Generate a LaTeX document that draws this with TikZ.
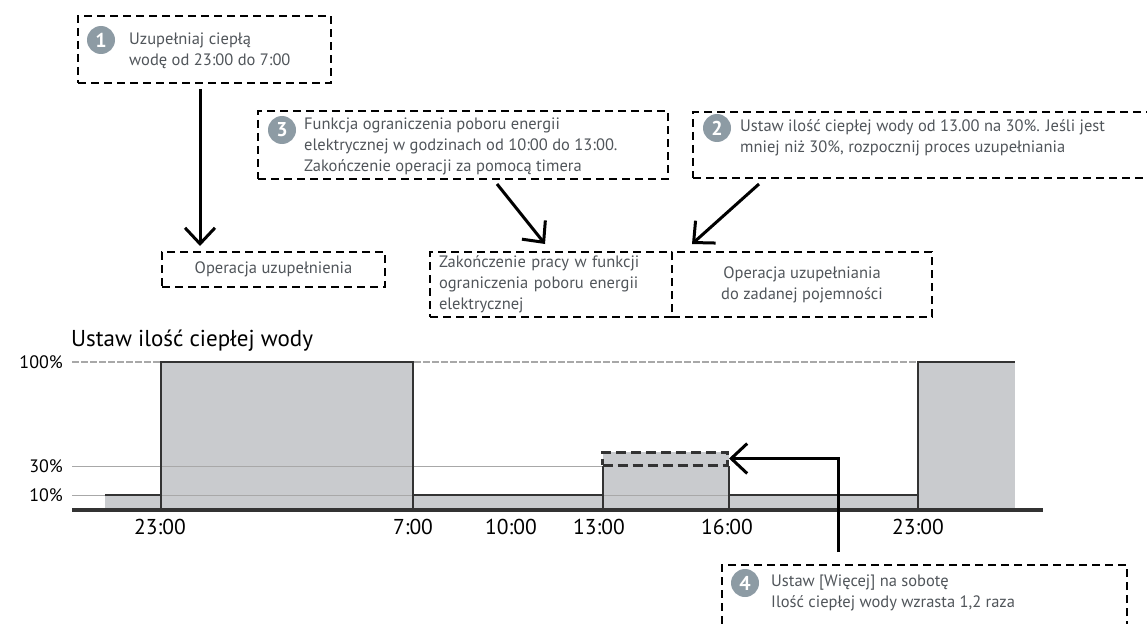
\documentclass[tikz,border=0pt]{standalone}
\usepackage{fontspec}
\setmainfont{PT Sans}
\usetikzlibrary{arrows.meta}
\definecolor{boxtext}{HTML}{50555A}
\definecolor{badgegray}{HTML}{8D9BA4}
\definecolor{barfill}{HTML}{C9CBCE}
\definecolor{edgedark}{HTML}{333333}
\definecolor{gridgray}{HTML}{A8A8A8}

\begin{document}
\begin{tikzpicture}[x=1pt, y=-1pt,
    dbox/.style={draw, dash pattern=on 8pt off 5pt, line width=2pt, inner sep=0pt},
    badge/.style={circle, fill=badgegray, text=white, font=\fontsize{20}{20}\selectfont\bfseries, minimum size=28pt, inner sep=0pt},
    txt/.style={text=boxtext, font=\fontsize{16.5}{21}\selectfont, align=left, inner sep=0pt},
    arr/.style={line width=3pt, -{Straight Barb[length=16pt, width=30pt]}},
    lbl/.style={font=\fontsize{21.5}{21.5}\selectfont, inner sep=0pt}]
        \clip (0, 0) rectangle (1147, 623);

        \node[dbox, minimum width=253pt, minimum height=67pt] (b1) at (204.5, 49.5) {};
        \node[badge] (n1) at (101, 40) {1};
        \node[txt, anchor=west] (t1) at (129, 50.5) {Uzupełniaj ciepłą\\wodę od 23:00 do 7:00};

        \node[dbox, minimum width=410pt, minimum height=68pt] (b3) at (463, 145) {};
        \node[badge] (n3) at (282, 130) {3};
        \node[txt, anchor=west] (t3) at (304, 146) {Funkcja ograniczenia poboru energii\\elektrycznej w godzinach od 10:00 do 13:00.\\Zakończenie operacji za pomocą timera};

        \node[dbox, minimum width=477pt, minimum height=66pt] (b2) at (931.5, 145) {};
        \node[badge] (n2) at (717, 128) {2};
        \node[txt, anchor=west] (t2) at (740, 138) {Ustaw ilość ciepłej wody od 13.00 na 30\%. Jeśli jest\\mniej niż 30\%, rozpocznij proces uzupełniania};

        \node[dbox, txt, minimum width=223pt, minimum height=35pt] (op1) at (273.5, 269.5) {Operacja uzupełnienia};
        \node[dbox, txt, minimum width=242pt, minimum height=65pt, text width=224pt] (zl) at (551, 284.5) {Zakończenie pracy w funkcji\\ograniczenia poboru energii\\elektrycznej};
        \node[dbox, txt, align=center, minimum width=260pt, minimum height=65pt] (zr) at (802, 284.5) {Operacja uzupełniania\\do zadanej pojemności};

        \node[dbox, minimum width=405pt, minimum height=75pt] (b4) at (924.5, 602.5) {};
        \node[badge] (n4) at (745, 583) {4};
        \node[txt, anchor=west] (t4) at (771, 593) {Ustaw [Więcej] na sobotę\\Ilość ciepłej wody wzrasta 1,2 raza};

        \draw[arr] ([xshift=-4.5pt, yshift=-5pt]b1.south) -- ([xshift=-73.5pt, yshift=5pt]op1.north);
        \draw[arr] ([xshift=34pt, yshift=-4pt]b3.south) -- ([xshift=-6pt, yshift=7pt]zl.north);
        \draw[arr] ([xshift=67pt, yshift=-5pt]b2.south west) -- ([xshift=21pt, yshift=7pt]zr.north west);

        \fill[barfill] (105, 495) rectangle (918, 510);
        \fill[barfill] (161, 362) rectangle (413, 510);
        \fill[barfill] (603, 452) rectangle (729, 510);
        \fill[barfill] (918, 362) rectangle (1015, 510);

        \draw[gridgray, line width=1.5pt, dash pattern=on 7pt off 2pt] (72, 362) to (918, 362);
        \draw[gridgray, line width=1pt] (72, 466) to (603, 466);
        \draw[gridgray, line width=1pt] (72, 495) to (918, 495);

        \draw[edgedark, line width=1.5pt] (105, 495) -- (161, 495);
        \draw[edgedark, line width=1.5pt] (161, 510) -- (161, 362) -- (413, 362) -- (413, 510);
        \draw[edgedark, line width=1.5pt] (413, 495) -- (603, 495);
        \draw[edgedark, line width=1.5pt] (603, 510) -- (603, 466);
        \draw[edgedark, line width=1.5pt] (729, 510) -- (729, 466);
        \draw[edgedark, line width=1.5pt] (729, 495) -- (918, 495);
        \draw[edgedark, line width=1.5pt] (918, 510) -- (918, 362) -- (1015, 362);
        \draw[edgedark, line width=4pt] (72, 510) -- (1043, 510);

        \node[draw=edgedark, dash pattern=on 10pt off 5pt, line width=3pt, minimum width=125pt, minimum height=13pt, inner sep=0pt] (boost) at (665, 458.5) {};
        \draw[arr] ([xshift=-86.5pt, yshift=12pt]b4.north) |- (boost.east);

        \node[lbl, anchor=west, font=\fontsize{23}{23}\selectfont] (title) at (71, 341) {Ustaw ilość ciepłej wody};
        \node[lbl, anchor=east, font=\fontsize{18}{18}\selectfont] (p100) at (63, 362) {100\%};
        \node[lbl, anchor=east, font=\fontsize{18}{18}\selectfont] (p30) at (63, 466) {30\%};
        \node[lbl, anchor=east, font=\fontsize{18}{18}\selectfont] (p10) at (63, 495) {10\%};

        \foreach \x/\t in {160/23:00, 413/7:00, 511/10:00, 599/13:00, 727/16:00, 918/23:00}
            \node[lbl] (h\x) at (\x, 527) {\t};
    \end{tikzpicture}
\end{document}
